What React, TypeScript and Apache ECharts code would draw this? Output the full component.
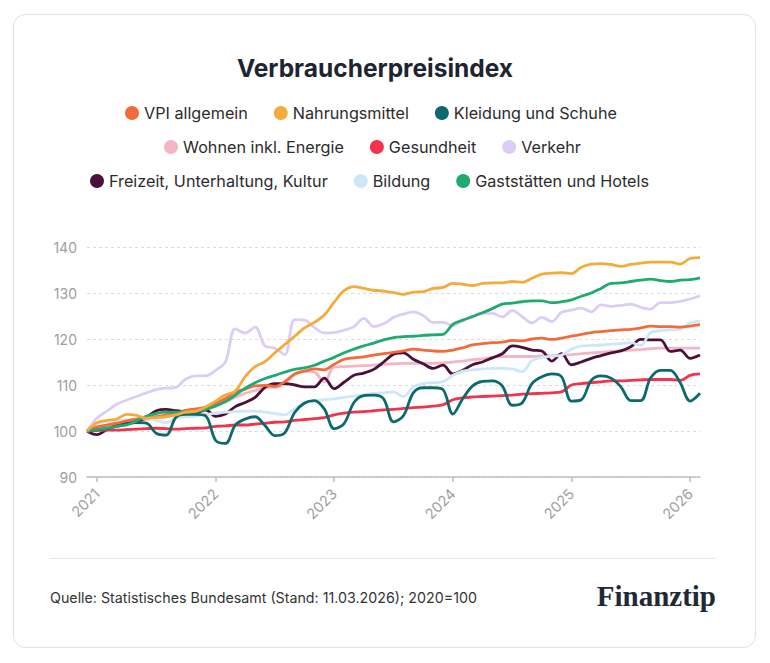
import { useEffect, useRef } from "react";
import * as echarts from "echarts";

// Monatsachse: Dezember 2020 bis Februar 2026
const firstYear = 2020;
const firstMonth = 12;
const monthCount = 63;
const months: string[] = [];
for (let k = 0; k < monthCount; k++) {
  const m0 = firstMonth - 1 + k;
  const y = firstYear + Math.floor(m0 / 12);
  const m = (m0 % 12) + 1;
  months.push(`${y}-${String(m).padStart(2, "0")}`);
}

const vpiAllgemein = [
  100, 100.9, 101.3, 101.7, 102.2, 102.6, 103, 103.1, 103.5, 103.9, 104.5, 104.8,
  105.2, 106, 107.1, 108.5, 109.1, 109.8, 109.9, 109.7, 110.7, 112.4, 113, 113.5,
  113.3, 114.5, 115.6, 115.9, 116.1, 116.5, 116.8, 117.1, 117.4, 117.8, 117.6, 117.4,
  117.3, 117.6, 118.1, 118.7, 119, 119.2, 119.3, 119.7, 119.6, 120, 120.2, 119.9,
  120.2, 120.6, 121, 121.4, 121.6, 121.8, 122, 122.1, 122.4, 122.8, 122.7, 122.7,
  122.6, 122.8, 123.1,
];
const nahrungsmittel = [
  100, 101.8, 102.3, 102.6, 103.6, 103.4, 102.8, 102.9, 103.1, 103.5, 104.1, 104.3,
  105.2, 106.5, 107.8, 108.7, 111.8, 114, 115.1, 117, 118.8, 120.6, 122.4, 123.6,
  125.2, 128, 130.5, 131.4, 131, 130.6, 130.4, 130.1, 129.7, 130.2, 130.3, 131,
  131.2, 132.1, 131.9, 131.6, 132.1, 132.2, 132.2, 132.5, 132.3, 133.2, 134.1, 134.3,
  134.4, 134.2, 135.6, 136.3, 136.4, 136.2, 135.8, 136.2, 136.5, 136.7, 136.7, 136.7,
  136.3, 137.5, 137.7,
];
const kleidungSchuhe = [
  100, 100.3, 100.5, 101, 101.5, 101.8, 101.7, 99.5, 99.1, 103, 103.6, 103.6,
  103.3, 98, 97.3, 101.3, 102.6, 103.1, 101.2, 99, 99.6, 104, 106.1, 106.6,
  104.8, 100.5, 101.6, 106.2, 107.7, 107.8, 107, 102, 103.3, 108.3, 109.4, 109.4,
  109, 103.7, 107, 109.8, 110.8, 110.9, 109.8, 105.6, 106.1, 110.3, 111.8, 112.4,
  111.8, 106.5, 106.8, 111, 112, 111.5, 109.6, 106.6, 106.6, 111.5, 113.2, 113.2,
  110.5, 106.5, 108.2,
];
const wohnenEnergie = [
  100, 100.7, 101.1, 101.5, 101.8, 102.2, 102.5, 102.9, 103.2, 103.5, 103.8, 104.1,
  104.5, 105.5, 106.3, 107.3, 108.2, 108.8, 109.5, 109.5, 110.3, 112.3, 113, 112.8,
  110.7, 113.9, 114, 114.1, 114.2, 114.3, 114.5, 114.6, 114.7, 114.7, 114.7, 114.7,
  114.8, 115, 115.2, 115.5, 115.7, 116, 116.2, 116.2, 116.2, 116.2, 116.3, 116.4,
  116.5, 116.6, 116.8, 117, 117.1, 117.3, 117.4, 117.6, 117.7, 117.9, 118, 118,
  118, 118, 118,
];
const gesundheit = [
  100, 100.1, 100.2, 100.2, 100.3, 100.4, 100.5, 100.6, 100.5, 100.4, 100.5, 100.6,
  100.7, 101, 101.1, 101.3, 101.3, 101.5, 101.7, 101.9, 102, 102.3, 102.5, 102.7,
  102.9, 103.5, 103.9, 104.1, 104.2, 104.4, 104.6, 104.7, 104.9, 105.1, 105.2, 105.4,
  105.7, 106.8, 107.2, 107.4, 107.5, 107.6, 107.7, 107.8, 108, 108.1, 108.2, 108.3,
  108.5, 110, 110.3, 110.5, 110.7, 110.9, 110.9, 111, 111.1, 111.2, 111.2, 111.2,
  111, 112.1, 112.4,
];
const verkehr = [
  100, 102.8, 104.3, 105.8, 106.7, 107.5, 108.3, 109, 109.3, 109.5, 111.3, 112,
  112, 113.2, 115, 122.2, 121.3, 122.6, 118.5, 118, 116.6, 124.2, 124.1, 122.5,
  121.3, 121.4, 121.9, 122.7, 124.5, 122.7, 123.3, 124.7, 125.4, 125.9, 125.1, 123.6,
  123.6, 122.9, 124, 124.8, 125.6, 125.6, 124.8, 126.2, 124.9, 123.5, 124.7, 123.8,
  125.8, 126.3, 126.7, 125.9, 127.4, 127.1, 127.3, 127.6, 126.9, 126.5, 127.9, 127.9,
  128.2, 128.7, 129.4,
];
const freizeitKultur = [
  100, 99.2, 100.3, 101.2, 101.7, 102, 103, 104.4, 104.7, 104.4, 104.2, 104,
  104.6, 103.2, 103.7, 105.3, 106.2, 107.3, 109.5, 110.3, 110.3, 110, 109.6, 109.6,
  111.5, 109.2, 110.6, 112.1, 112.6, 113.4, 115, 116.7, 117, 115.6, 114.6, 113.6,
  114.3, 112.4, 113.2, 114.4, 115, 115.9, 116.8, 118.5, 118.2, 117.6, 117.4, 115.2,
  116.8, 114.4, 115, 115.8, 116.4, 117, 117.4, 118.3, 119.9, 119.8, 119.8, 117.3,
  117.6, 115.8, 116.5,
];
const bildung = [
  100, 101.6, 102, 102.2, 102.4, 102.6, 102.8, 102.3, 101.8, 102.8, 103.1, 103.2,
  103.6, 103.9, 104.1, 104.2, 104.3, 104.3, 104.1, 103.8, 103.5, 104.8, 106, 106.6,
  106.8, 107, 107.3, 107.6, 107.9, 108.2, 108.3, 108.5, 107.5, 109.6, 110.3, 110.5,
  110.7, 112.1, 113, 113.3, 113.5, 113.6, 113.6, 113.5, 112.9, 115.3, 116, 116.3,
  116.5, 117.8, 118.5, 118.6, 118.7, 118.9, 119, 119.2, 118.6, 121.4, 121.8, 122,
  122.1, 123.5, 123.9,
];
const gaststaettenHotels = [
  100, 100.3, 100.6, 101, 101.3, 102.2, 103.2, 103.8, 104.1, 104.1, 104.1, 104.2,
  104.7, 105.4, 106.4, 107.8, 109.3, 110.5, 111.4, 112.1, 112.8, 113.4, 113.7, 114.3,
  115.2, 116, 117, 117.8, 118.5, 119.1, 119.8, 120.3, 120.5, 120.6, 120.8, 120.9,
  121, 123.2, 124.1, 124.9, 125.7, 126.6, 127.6, 127.8, 128.1, 128.3, 128.3, 127.9,
  128.1, 128.5, 129.3, 130, 131, 132.1, 132.2, 132.5, 132.8, 133, 132.7, 132.5,
  132.8, 132.9, 133.3,
];

const legendRows = [
  ["VPI allgemein", "Nahrungsmittel", "Kleidung und Schuhe"],
  ["Wohnen inkl. Energie", "Gesundheit", "Verkehr"],
  ["Freizeit, Unterhaltung, Kultur", "Bildung", "Gaststätten und Hotels"],
];

// Zeichenreihenfolge: zuerst gezeichnete Linien liegen unten
const seriesDefs = [
  { name: "Verkehr", data: verkehr, color: "#dccdf7" },
  { name: "Wohnen inkl. Energie", data: wohnenEnergie, color: "#f2b6c5" },
  { name: "Freizeit, Unterhaltung, Kultur", data: freizeitKultur, color: "#4b1038" },
  { name: "Bildung", data: bildung, color: "#cde7f9" },
  { name: "Gesundheit", data: gesundheit, color: "#f2334b" },
  { name: "Kleidung und Schuhe", data: kleidungSchuhe, color: "#0c6a6d" },
  { name: "VPI allgemein", data: vpiAllgemein, color: "#f26b3a" },
  { name: "Gaststätten und Hotels", data: gaststaettenHotels, color: "#1fab6f" },
  { name: "Nahrungsmittel", data: nahrungsmittel, color: "#f5aa3c" },
];

const FONT = "Inter, 'Noto Sans', sans-serif";

export default function App() {
  const ref = useRef<HTMLDivElement>(null);

  useEffect(() => {
    if (!ref.current) return;
    const chart = echarts.init(ref.current, undefined, { renderer: "svg" });

    const isJanuary = (_i: number, v: string) => v.endsWith("-01");

    chart.setOption({
      animation: false,
      backgroundColor: "#ffffff",
      textStyle: { fontFamily: FONT },
      graphic: [
        {
          type: "rect",
          z: -10,
          shape: { x: 13.5, y: 14.5, width: 742, height: 633, r: 12 },
          style: { fill: "#ffffff", stroke: "#e2e2e2", lineWidth: 1 },
        },
        {
          type: "text",
          x: 375,
          y: 68,
          style: {
            text: "Verbraucherpreisindex",
            fontFamily: FONT,
            fontSize: 24.5,
            fontWeight: 700,
            fill: "#1e2430",
            align: "center",
            verticalAlign: "middle",
          },
        },
        {
          type: "line",
          shape: { x1: 50, y1: 558.5, x2: 716, y2: 558.5 },
          style: { stroke: "#e6e6e6", lineWidth: 1 },
        },
        {
          type: "text",
          x: 50,
          y: 597,
          style: {
            text: "Quelle: Statistisches Bundesamt (Stand: 11.03.2026); 2020=100",
            fontFamily: FONT,
            fontSize: 14.25,
            fill: "#333333",
            align: "left",
            verticalAlign: "middle",
          },
        },
        {
          type: "text",
          x: 716,
          y: 596,
          style: {
            text: "Finanztip",
            fontFamily: "'Liberation Serif', 'DejaVu Serif', serif",
            fontSize: 29,
            fontWeight: 900,
            fill: "#1f2937",
            align: "right",
            verticalAlign: "middle",
          },
        },
      ],
      legend: legendRows.map((row, r) => ({
        data: row,
        top: [105, 139, 173][r],
        left: [125, 164, 90][r],
        padding: 0,
        orient: "horizontal",
        icon: "circle",
        itemWidth: 14,
        itemHeight: 14,
        itemGap: 26,
        selectedMode: false,
        textStyle: { fontFamily: FONT, fontSize: 16.2, color: "#2b2b2b" },
      })),
      grid: { left: 87, right: 70, top: 247, bottom: 186 },
      xAxis: {
        type: "category",
        data: months,
        boundaryGap: false,
        axisLine: { lineStyle: { color: "#bdbdbd", width: 1.5 } },
        axisTick: {
          interval: isJanuary,
          length: 5,
          lineStyle: { color: "#bdbdbd", width: 1.5 },
        },
        axisLabel: {
          interval: isJanuary,
          rotate: 45,
          margin: 14,
          color: "#a0a0a0",
          fontSize: 14.5,
          fontFamily: FONT,
          formatter: (v: string) => v.slice(0, 4),
        },
        splitLine: { show: false },
      },
      yAxis: {
        type: "value",
        min: 90,
        max: 140,
        interval: 10,
        axisLine: { show: false },
        axisTick: { show: false },
        axisLabel: { color: "#9e9e9e", fontSize: 14, margin: 10, fontFamily: FONT },
        splitLine: { lineStyle: { color: "#dcdcdc", type: [3, 3], width: 1 } },
      },
      series: seriesDefs.map((s) => ({
        name: s.name,
        type: "line",
        data: s.data,
        smooth: 0.35,
        showSymbol: false,
        symbol: "circle",
        color: s.color,
        lineStyle: { color: s.color, width: 2.8 },
        emphasis: { disabled: true },
      })),
    });

    return () => chart.dispose();
  }, []);

  return (
    <div
      ref={ref}
      style={{ position: "fixed", left: 0, top: 0, width: 770, height: 663 }}
    />
  );
}
